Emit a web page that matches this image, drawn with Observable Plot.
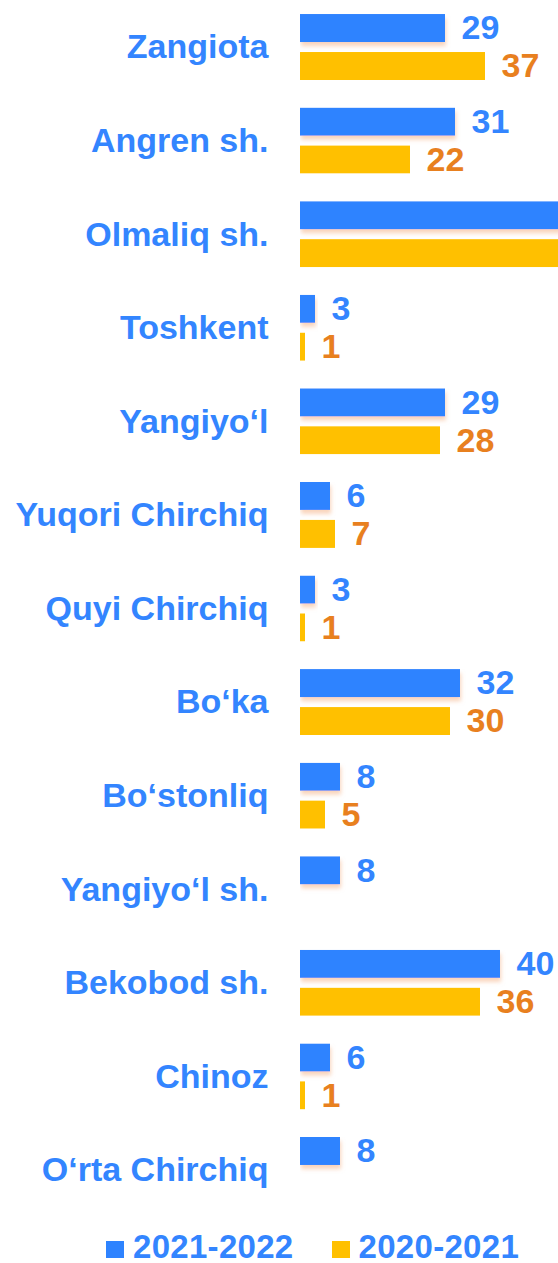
<!DOCTYPE html>
<html>
<head>
<meta charset="utf-8">
<script src="https://cdn.jsdelivr.net/npm/d3@7"></script>
<script src="https://cdn.jsdelivr.net/npm/@observablehq/plot@0.6"></script>
<style>
  body { margin: 0; background: #fff; font-family: "Liberation Sans", Arial, sans-serif; }
  #legend { display: flex; align-items: center; padding-left: 106px; padding-top: 13px; font-size: 33px; line-height: 33px; font-weight: bold; color: #3385FF; letter-spacing: 0.3px; }
  #legend .item { display: flex; align-items: center; }
  #legend .sw { width: 18px; height: 17px; margin-right: 9px; margin-top: 6px; }
  svg text.cat { letter-spacing: 0.4px; }
</style>
</head>
<body>
<div id="chart"></div>
<div id="legend"></div>
<script>
const categories = ["Zangiota", "Angren sh.", "Olmaliq sh.", "Toshkent", "Yangiyo‘l", "Yuqori Chirchiq", "Quyi Chirchiq", "Bo‘ka", "Bo‘stonliq", "Yangiyo‘l sh.", "Bekobod sh.", "Chinoz", "O‘rta Chirchiq"];
const seriesNames = ["2021-2022", "2020-2021"];
const values2122 = [29, 31, 55, 3, 29, 6, 3, 32, 8, 8, 40, 6, 8];
const values2021 = [37, 22, 55, 1, 28, 7, 1, 30, 5, null, 36, 1, null];
const seriesColors = ["#2E83FF", "#FFC000"];
const labelColors = ["#3385FF", "#E8801F"];
const xMax = 51.6;

const rows = [];
categories.forEach((c, i) => {
  if (values2122[i] != null) rows.push({cat: c, series: seriesNames[0], value: values2122[i]});
  if (values2021[i] != null) rows.push({cat: c, series: seriesNames[1], value: values2021[i]});
});
const visible = rows.filter(d => d.value <= xMax);

const font = "Liberation Sans, Arial, sans-serif";

const chart = Plot.plot({
  width: 558,
  height: 1217,
  marginLeft: 300,
  marginRight: 0,
  marginTop: 0,
  marginBottom: 0,
  style: {fontFamily: font, background: "white"},
  x: {domain: [0, xMax], axis: null},
  y: {domain: seriesNames, axis: null, paddingInner: 10 / 38, paddingOuter: 0, round: false},
  fy: {domain: categories, axis: null, paddingInner: 0.295, paddingOuter: 0.15, round: false},
  color: {domain: seriesNames, range: seriesColors},
  marks: [
    Plot.barX(rows.filter(d => d.series === seriesNames[1]), {x: "value", y: "series", fy: "cat", fill: "series", clip: true}),
    Plot.barX(rows.filter(d => d.series === seriesNames[0]), {x: "value", y: "series", fy: "cat", fill: "series", clip: true, className: "shadowed"}),
    Plot.text(visible.filter(d => d.series === seriesNames[0]), {
      x: "value", y: "series", fy: "cat", text: d => String(d.value),
      dx: 16, textAnchor: "start", fill: labelColors[0], fontSize: 34, fontWeight: "bold"
    }),
    Plot.text(visible.filter(d => d.series === seriesNames[1]), {
      x: "value", y: "series", fy: "cat", text: d => String(d.value),
      dx: 16, textAnchor: "start", fill: labelColors[1], fontSize: 34, fontWeight: "bold"
    }),
    Plot.text(categories, {
      fy: d => d, text: d => d, frameAnchor: "left", textAnchor: "end", dx: -32,
      fill: labelColors[0], fontSize: 34, fontWeight: "bold", className: "cat"
    })
  ]
});

// subtle drop shadow below the blue bars
const svg = d3.select(chart);
svg.append("defs").html('<filter id="sh" x="-10%" y="-30%" width="130%" height="190%"><feDropShadow dx="1" dy="4" stdDeviation="2.2" flood-color="#F4B183" flood-opacity="0.55"/></filter>');
svg.selectAll(".shadowed rect").attr("filter", "url(#sh)");

document.getElementById("chart").appendChild(chart);

const legend = d3.select("#legend");
seriesNames.forEach((s, i) => {
  const item = legend.append("div").attr("class", "item").style("margin-right", i === 0 ? "38px" : "0");
  item.append("div").attr("class", "sw").style("background", seriesColors[i]);
  item.append("span").text(s);
});
</script>
</body>
</html>
